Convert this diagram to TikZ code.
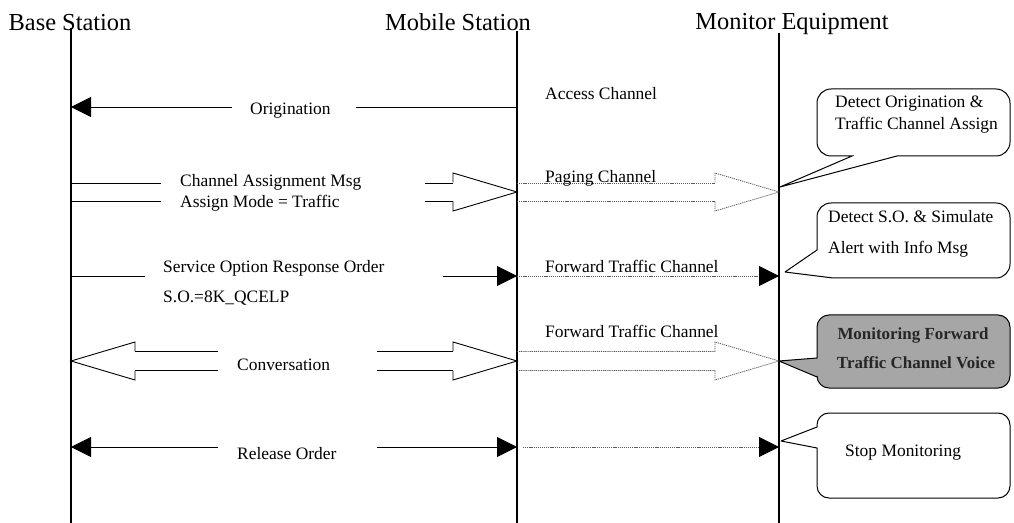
\documentclass[tikz,border=0pt]{standalone}
\usepackage{fontspec}
\setmainfont{Liberation Serif}
\usetikzlibrary{arrows.meta, positioning, calc}

\begin{document}
\begin{tikzpicture}[x=1bp, y=-1bp, >={Triangle[length=20bp, width=20bp, black]},
    life/.style={line width=1.4bp},
    msg/.style={line width=0.9bp},
    air/.style={line width=0.8bp, gray!70!black, dash pattern=on 1.2bp off 0.9bp},
    title/.style={font=\fontsize{24.5}{28}\selectfont, anchor=base, inner sep=0pt},
    lbl/.style={font=\fontsize{17.5}{21}\selectfont, anchor=base west, inner sep=0pt},
    bubble/.style={line width=1bp, fill=white},
    fat/.pic={\draw[pic actions] (-64,-9.5) -- (-64,-19) -- (0,0) -- (-64,19) -- (-64,9.5);}]

    \useasboundingbox (0,0) rectangle (1014,523);

    \node[title] (bs) at (70,31) {Base Station};
    \node[title] (ms) at (458,31) {Mobile Station};
    \node[title] (me) at (792,30) {Monitor Equipment};

    \foreach \r/\y in {1/107, 2/192, 3/276, 4/361, 5/447} {
        \coordinate (bs\r) at (71,\y);
        \coordinate (ms\r) at (517,\y);
        \coordinate (me\r) at (779,\y);
    }
    \coordinate (bsend) at (71,523);
    \coordinate (msend) at (517,523);
    \coordinate (meend) at (779,523);

    \draw[life] (71,28) -- (bsend);
    \draw[life] (517,31) -- (msend);
    \draw[life] (779,33) -- (meend);

    % origination
    \draw[msg] (ms1) -- (356,107);
    \draw[msg, ->] (232,107) -- (bs1);
    \node[lbl] (orig) at (250,115) {Origination};
    \node[lbl] (acc) at (545,100) {Access Channel};

    % channel assignment
    \draw[msg] ($(bs2)+(0,-9)$) -- +(90,0) ($(bs2)+(0,9)$) -- +(90,0);
    \draw[msg] (425,183) -- (453,183) (425,201) -- (453,201);
    \pic[msg] at (ms2) {fat};
    \node[lbl] (cam) at (180,187) {Channel Assignment Msg};
    \node[lbl] (amode) at (180,208) {Assign Mode = Traffic};
    \draw[air] ($(ms2)+(0,-9)$) -- (715,183) ($(ms2)+(0,9)$) -- (715,201);
    \pic[air] at (me2) {fat};
    \node[lbl] (pag) at (545,183) {Paging Channel};

    % service option
    \draw[msg] (bs3) -- (145,276);
    \draw[msg, ->] (443,276) -- (ms3);
    \draw[air, ->] (ms3) -- (me3);
    \node[lbl] (sor) at (163,273) {Service Option Response Order};
    \node[lbl] (so) at (163,303) {S.O.=8K\_QCELP};
    \node[lbl] (ftc1) at (545,273) {Forward Traffic Channel};

    % conversation
    \pic[msg, rotate=180] at (bs4) {fat};
    \draw[msg] (135,351.5) -- (218,351.5) (135,370.5) -- (218,370.5);
    \draw[msg] (377,351.5) -- (453,351.5) (377,370.5) -- (453,370.5);
    \pic[msg] at (ms4) {fat};
    \node[lbl] (conv) at (237,371) {Conversation};
    \draw[air] ($(ms4)+(0,-9.5)$) -- (715,351.5) ($(ms4)+(0,9.5)$) -- (715,370.5);
    \pic[air] at (me4) {fat};
    \node[lbl] (ftc2) at (545,338) {Forward Traffic Channel};

    % release
    \draw[msg, <-] (bs5) -- (218,447);
    \draw[msg, ->] (377,447) -- (ms5);
    \draw[air, ->] (523,447) -- (me5);
    \node[lbl] (rel) at (237,459) {Release Order};

    % monitor notes
    \coordinate (tipA) at (780,187);
    \coordinate (tipB) at (785,272);
    \coordinate (tipD) at (781,441);
    \draw[bubble] (tipA) [sharp corners] -- (852,156) [rounded corners=14bp] -- (817,156) -- (817,89) -- (1010,89) -- (1010,156) [sharp corners] -- (897,156) -- (tipA);
    \node[lbl] (detA1) at (835,108) {Detect Origination \&};
    \node[lbl] (detA2) at (835,130) {Traffic Channel Assign};

    \draw[bubble] (tipB) [sharp corners] -- (817,250) [rounded corners=14bp] -- (817,203) -- (1010,203) -- (1010,278) [sharp corners] -- (833,278) -- (tipB);
    \node[lbl] (detB1) at (828,223) {Detect S.O. \& Simulate};
    \node[lbl] (detB2) at (828,254) {Alert with Info Msg};

    \draw[bubble, fill=black!35] (me4) [sharp corners] -- (817,358) [rounded corners=12bp] -- (817,315) -- (1010,315) -- (1010,388) -- (817,388) [sharp corners] -- (817,377) -- (me4);
    \node[lbl, anchor=base, font=\bfseries\fontsize{17}{20}\selectfont, text=black!85] (monC1) at (913,340) {Monitoring Forward};
    \node[lbl, anchor=base, font=\bfseries\fontsize{17}{20}\selectfont, text=black!85] (monC2) at (916,369) {Traffic Channel Voice};

    \draw[bubble] (tipD) [sharp corners] -- (817,427) [rounded corners=12bp] -- (817,413) -- (1010,413) -- (1010,498) -- (817,498) [sharp corners] -- (817,448) -- (tipD);
    \node[lbl] (stopD) at (845,456) {Stop Monitoring};
\end{tikzpicture}
\end{document}
